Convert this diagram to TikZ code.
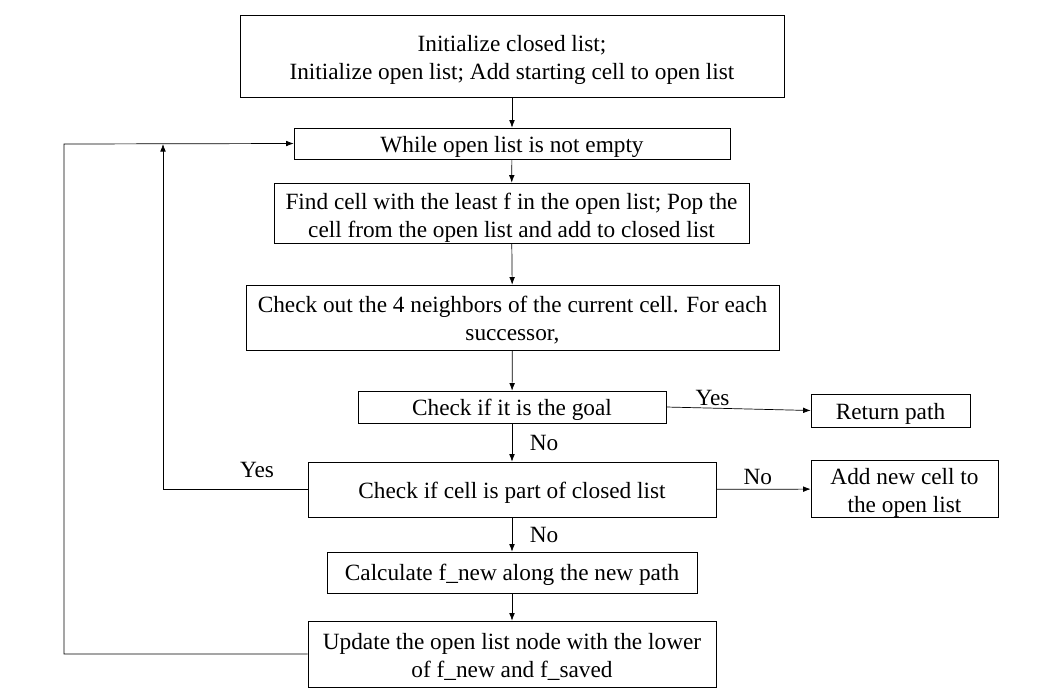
\documentclass[tikz,border=0pt]{standalone}
\usepackage{fontspec}
\setmainfont{Liberation Serif}
\usetikzlibrary{positioning, arrows.meta}
\newcommand{\lowr}[1][12.6pt]{\rule{0pt}{#1}}

\begin{document}
\begin{tikzpicture}[>={Latex[scale=0.9]}, x=0.02cm, y=-0.02cm,
		box/.style={draw, align=center, inner sep=0pt, font=\fontsize{13.25}{16}\selectfont},
		wd/.style={minimum width=#1*0.02cm},
		ht/.style={minimum height=#1*0.02cm},
		lbl/.style={inner sep=1pt, font=\fontsize{13.25}{16}\selectfont}]
		\useasboundingbox (0,0) rectangle (1058,691);
		
		% Draw the main column of steps
		\node[box, wd=544, ht=82] (init) at (512,56) {\lowr[13.5pt]Initialize closed list;\\ Initialize open list; Add starting cell to open list};
		\node[box, wd=436, ht=31] (while) at (512,143.5) {\lowr While open list is not empty};
		\node[box, wd=475, ht=60] (find) at (511.5,213) {\lowr[14.5pt]Find cell with the least f in the open list; Pop the\\ cell from the open list and add to closed list};
		\node[box, wd=533, ht=65] (nbrs) at (512.5,317.5) {\lowr[12pt]Check out the 4 neighbors of the current cell. For each\\ successor,};
		\node[box, wd=308, ht=32] (goal) at (512,407) {\lowr Check if it is the goal};
		\node[box, wd=408, ht=55] (closed) at (512,489.5) {\lowr Check if cell is part of closed list};
		\node[box, wd=370, ht=41] (calc) at (512,572.5) {\lowr[12pt]Calculate f\_new along the new path};
		\node[box, wd=408, ht=66] (update) at (512,654) {\lowr Update the open list node with the lower\\ of f\_new and f\_saved};
		
		% Draw the side boxes
		\node[box, wd=159, ht=33] (ret) at (890.5,410.5) {\lowr Return path};
		\node[box, wd=187, ht=56] (addnew) at (904.5,489) {\lowr[13.5pt]Add new cell to\\ the open list};
		
		% Draw the downward arrows
		\draw[->] (init) -- (while);
		\draw[->] (while) -- (find);
		\draw[->] (find) -- (nbrs);
		\draw[->] (nbrs) -- (goal);
		\draw[->] (goal) -- node[lbl, right=9pt] {No} (closed);
		\draw[->] (closed) -- node[lbl, right=9pt] {No} (calc);
		\draw[->] (calc) -- (update);
		
		% Draw the side arrows
		\draw[->] (goal.east) -- node[lbl, above, pos=0.32] {Yes} (ret.west);
		\draw[->] (closed) -- node[lbl, above=1.5pt, pos=0.44] {No} (addnew);
		
		% Draw the loop back arrows
		\coordinate (yesup) at (163,144);
		\coordinate (loopl) at (64,144);
		\draw[->] (closed.west) -| node[lbl, pos=0.175, above=5.5pt] {Yes} (yesup);
		\draw[->] (update.west) -| (loopl) -- (while.west);
		
	\end{tikzpicture}
\end{document}
